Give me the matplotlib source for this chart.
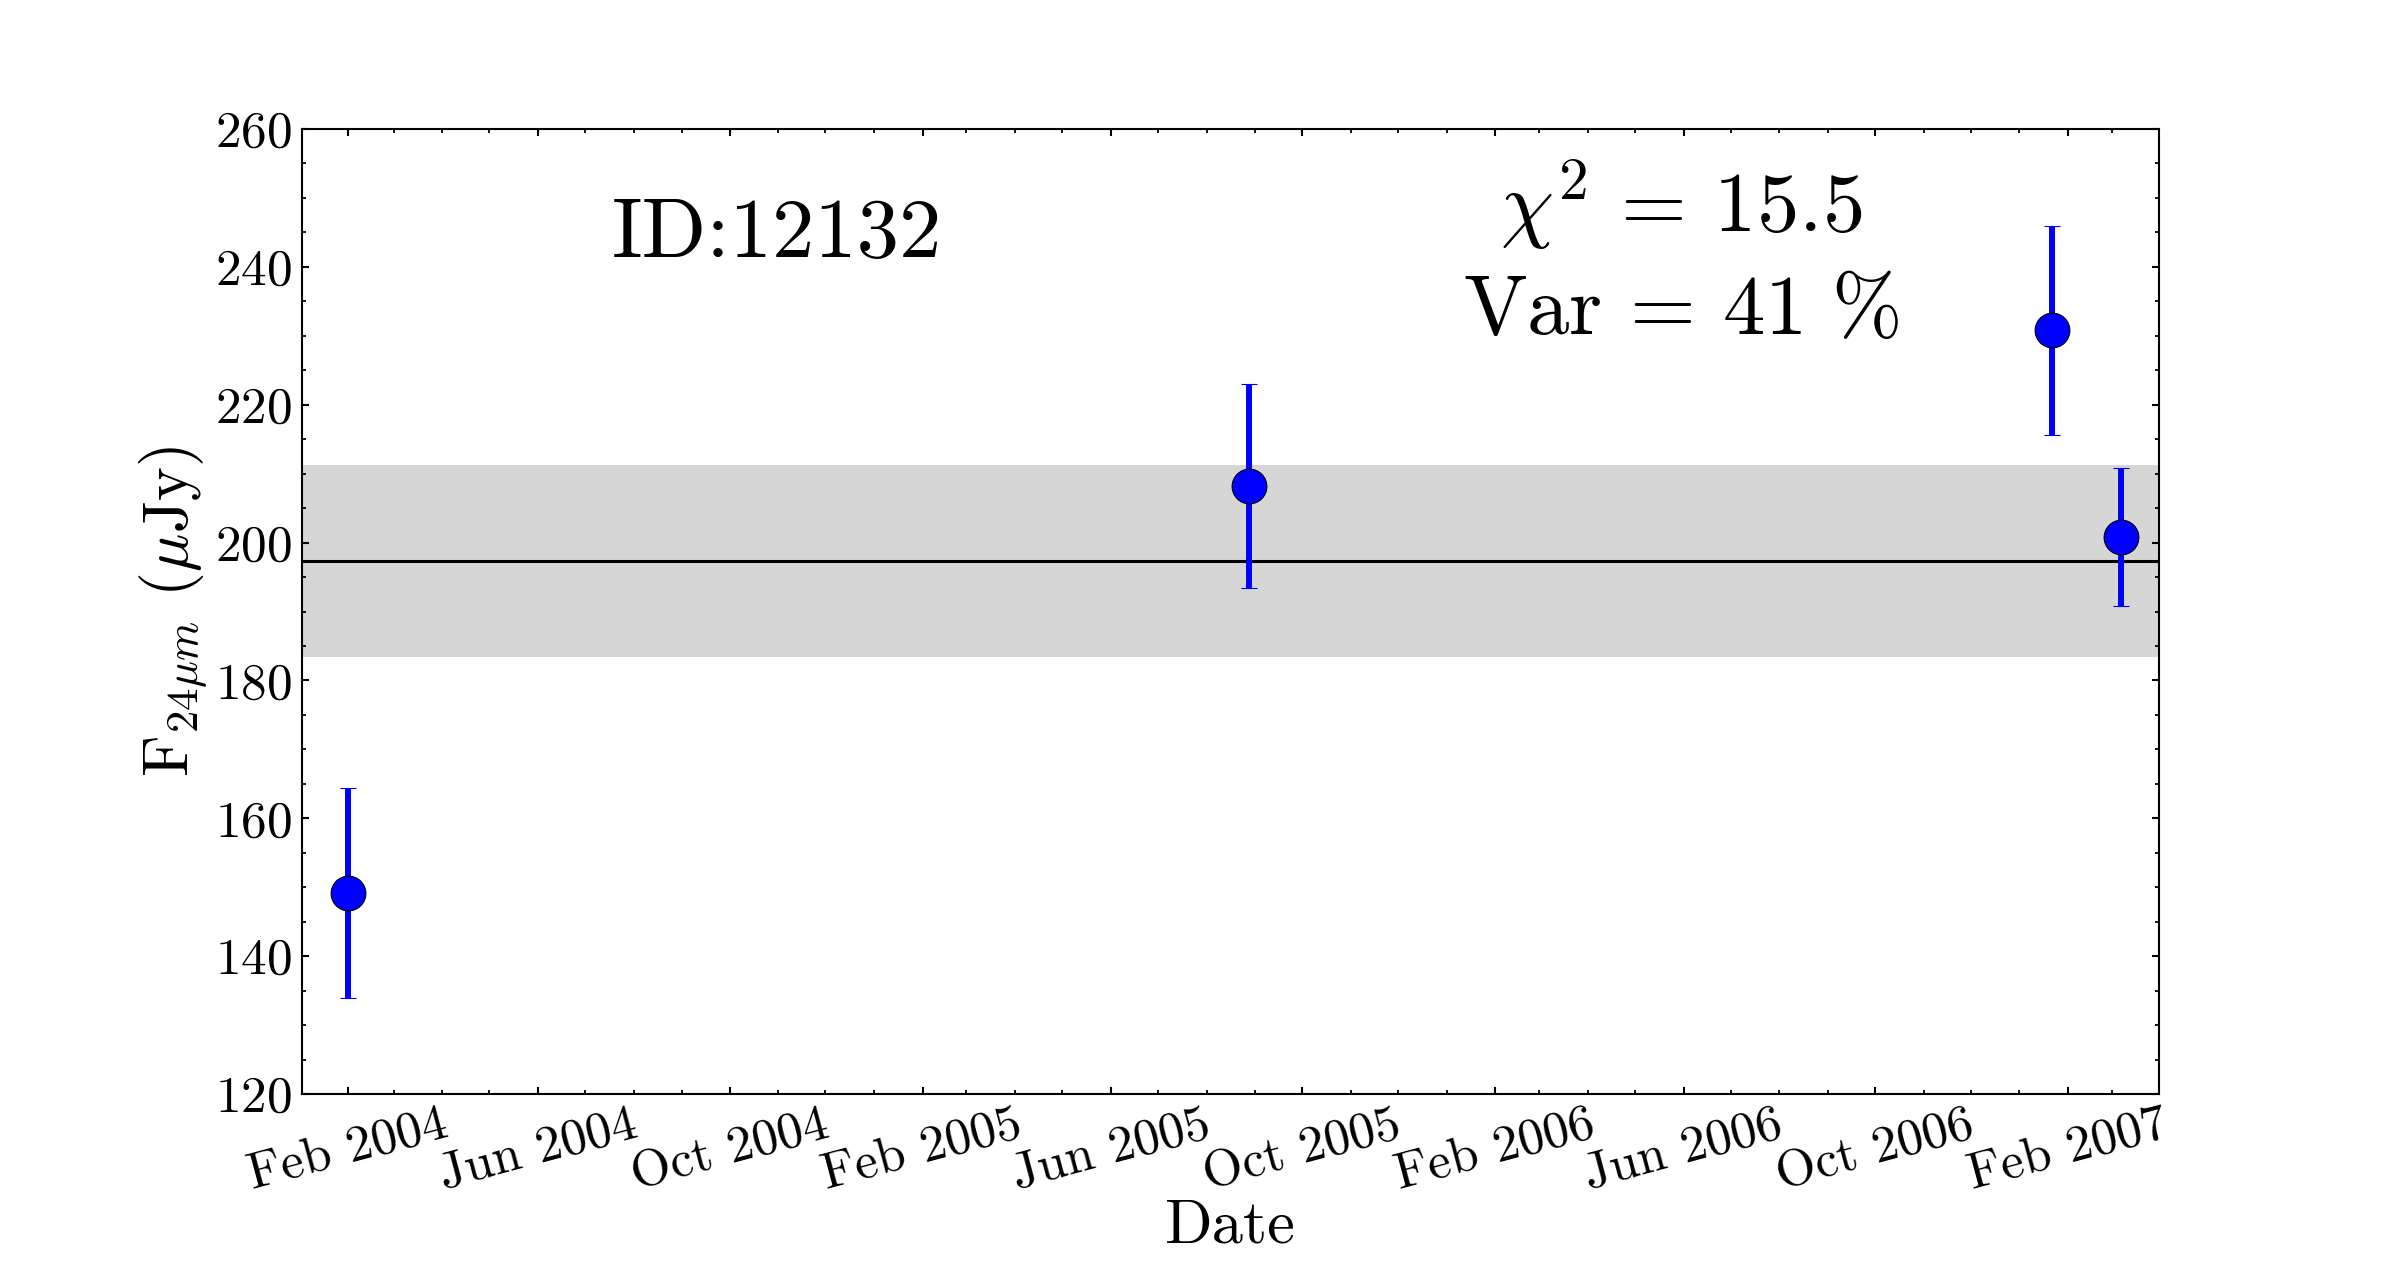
import datetime as dt
import matplotlib
matplotlib.use("Agg")
import matplotlib.pyplot as plt
import matplotlib.dates as mdates
from matplotlib.ticker import MultipleLocator

# light curve of one source at 24 micron
obs_dates = ["2004-02-01", "2005-08-28", "2007-01-22", "2007-03-07"]
flux = [149.2, 208.2, 230.8, 200.8]
flux_err = [15.2, 14.8, 15.2, 10.0]
mean_flux = 197.3
std_flux = 13.9
obj_id = "12132"
chi2 = 15.5
var_pct = 41

plt.rcParams['font.family'] = 'serif'
plt.rcParams['font.serif'] = ['cmr10']
plt.rcParams['mathtext.fontset'] = 'cm'
plt.rcParams['axes.formatter.use_mathtext'] = True

fig, ax = plt.subplots(figsize=(24, 12.85), dpi=100)
fig.subplots_adjust(left=0.1258, right=0.8996, top=0.8996, bottom=0.1486)

x = [dt.datetime.strptime(d, "%Y-%m-%d") for d in obs_dates]

ax.axhspan(mean_flux - std_flux, mean_flux + std_flux, color='#d6d6d6', lw=0, zorder=0)
ax.axhline(mean_flux, color='k', lw=2.2, zorder=1)
ax.errorbar(x, flux, yerr=flux_err, fmt='o', color='blue', ms=25, mec='k', mew=0.8,
            ecolor='blue', elinewidth=4.3, capsize=6, capthick=1.5, zorder=3)

ax.set_xlim(dt.datetime(2004, 1, 2, 12), dt.datetime(2007, 3, 31))
ax.set_ylim(120, 260)

ax.xaxis.set_major_locator(mdates.MonthLocator(bymonth=[2, 6, 10]))
ax.xaxis.set_minor_locator(mdates.MonthLocator())
ax.xaxis.set_major_formatter(mdates.DateFormatter('%b %Y'))
ax.yaxis.set_major_locator(MultipleLocator(20))
ax.yaxis.set_minor_locator(MultipleLocator(5))

ax.tick_params(which='both', direction='in', top=True, right=True, labelsize=37, pad=7)
ax.tick_params(axis='x', which='major', pad=5.5)
ax.tick_params(which='major', length=5, width=1.5)
ax.tick_params(which='minor', length=3, width=1.3)
for sp in ax.spines.values():
    sp.set_linewidth(1.5)
plt.setp(ax.get_xticklabels(), rotation=15, ha='center')

ax.set_xlabel('Date', fontsize=45, labelpad=0)
ax.set_ylabel(r'F$_{24\mu m}$ ($\mu$Jy)', fontsize=46)

ax.text(0.256, 0.867, 'ID:' + obj_id, transform=ax.transAxes,
        ha='center', va='baseline', fontsize=61)
ax.text(0.7426, 0.893, r'$\chi^2 \,=\, %.1f$' % chi2, transform=ax.transAxes,
        ha='center', va='baseline', fontsize=61)
ax.text(0.7426, 0.7875, r'$\mathrm{Var} \,=\, %d\ \%%$' % var_pct, transform=ax.transAxes,
        ha='center', va='baseline', fontsize=61)

fig.savefig('out.png', dpi=100)
